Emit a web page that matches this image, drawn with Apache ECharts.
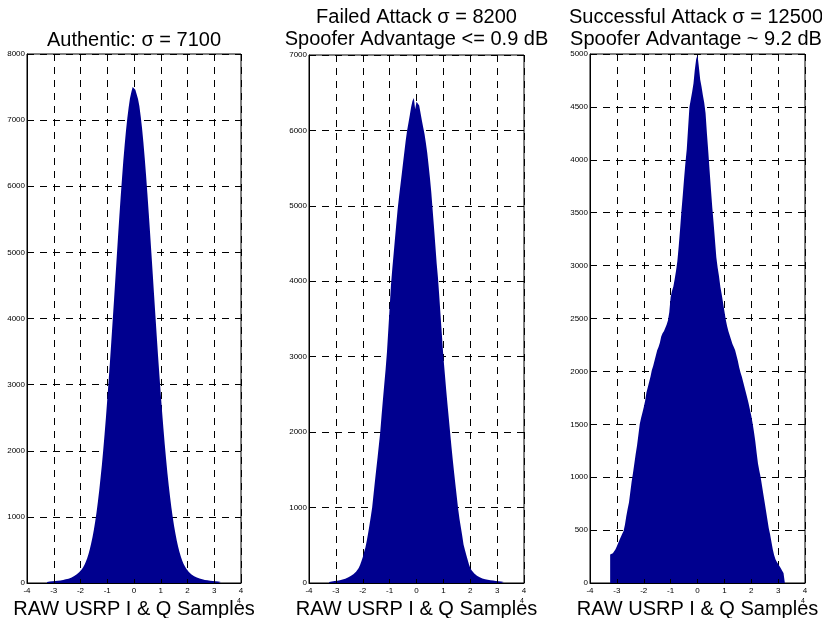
<!DOCTYPE html>
<html><head><meta charset="utf-8">
<script src="https://cdn.jsdelivr.net/npm/echarts@6/dist/echarts.min.js"></script>
<style>html,body{margin:0;padding:0;background:#fff}#c{width:822px;height:618px}</style>
</head><body><div id="c"></div>
<script>
// Histogram bins: centres from -3.25 to 3.25 (units of 1e4), step 0.05
const binStart = -3.25;
const binStep = 0.05;

const authentic = [
15,19,21,23,25,27,29,31,33,36,39,42,46,50,55,60,66,73,81,90,101,113,127,144,162,182,207,238,275,320,375,440,515,600,695,805,930,1070,1230,1400,1590,1790,2010,2250,2500,2770,3050,3340,3640,3950,4260,4580,4900,5220,5530,5830,6110,6380,6620,6840,7030,7190,7330,7420,7500,
7530,
7460,7450,7320,7215,7060,6880,6670,6430,6170,5890,5600,5300,4990,4675,4360,4045,3735,3430,3140,2860,2590,2335,2095,1870,1660,1470,1295,1135,990,860,745,640,550,470,400,340,292,252,220,192,168,148,130,115,102,91,82,74,67,61,56,51,47,43,40,37,34,32,30,28,26,24,22,20,17
];

const failedAttack = [
12,16,19,22,25,28,31,34,38,42,47,52,58,65,73,82,92,103,116,132,150,175,200,240,290,340,410,470,560,660,770,880,1000,1170,1340,1500,1660,1830,2000,2220,2430,2630,2830,3060,3350,3650,3950,4170,4370,4570,4770,4960,5120,5270,5420,5570,5720,5870,6000,6100,6200,6310,6390,6430,6280,
6380,
6400,6330,6230,6130,6040,5950,5830,5700,5540,5370,5180,4950,4720,4480,4240,4040,3790,3520,3260,3000,2790,2580,2380,2190,2000,1810,1630,1460,1300,1140,980,850,740,630,510,440,375,310,250,200,170,145,125,108,95,84,75,67,61,56,51,47,43,40,37,34,32,30,28,26,24,22,20,17,14
];

const successfulAttack = [
270,275,282,292,318,348,378,408,438,465,492,550,630,700,760,860,960,1040,1130,1220,1300,1400,1500,1560,1610,1660,1720,1800,1850,1900,1950,2010,2050,2100,2150,2200,2230,2270,2330,2360,2380,2410,2440,2480,2560,2700,2760,2800,2870,2950,3040,3180,3340,3510,3660,3820,3970,4100,4300,4500,4570,4640,4720,4850,4950,
4990,
4880,4760,4690,4610,4540,4440,4250,4080,3900,3720,3550,3400,3240,3080,2980,2900,2800,2730,2650,2570,2490,2430,2380,2340,2300,2260,2230,2200,2150,2100,2040,1990,1950,1900,1850,1800,1750,1700,1640,1580,1510,1430,1340,1230,1130,1060,1000,920,840,760,680,600,520,460,390,320,265,225,200,180,165,140,115,95,85
];

const xMin = -4, xMax = 4, xStep = 1;
const yMaxes = [8000, 7000, 5000];
const yStepsArr = [1000, 1000, 500];
const titleLines = [
  ['Authentic: σ = 7100'],
  ['Failed Attack σ = 8200', 'Spoofer Advantage <= 0.9 dB'],
  ['Successful Attack σ = 12500', 'Spoofer Advantage ~ 9.2 dB']
];
const xAxisName = 'RAW USRP I & Q Samples';
const exponentText = '4';

const seriesValues = [authentic, failedAttack, successfulAttack];
const FONT = 'Liberation Sans, Arial, Helvetica, sans-serif';
const FILL = '#00008F';

const grids = [
  {left: 27, top: 54, width: 214, height: 529},
  {left: 309, top: 55, width: 215, height: 528},
  {left: 590, top: 54, width: 215, height: 529}
];
const titleCenters = [134, 416.5, 696];

function toPairs(arr) {
  return arr.map((v, i) => [Math.round((binStart + i * binStep) * 100) / 100, v]);
}

const dash = [7, 6];
const option = {
  animation: false,
  backgroundColor: '#fff',
  grid: grids.map(g => Object.assign({show: true, borderColor: '#000', borderWidth: 1, backgroundColor: 'transparent', containLabel: false, outerBoundsMode: 'none'}, g)),
  xAxis: [],
  yAxis: [],
  series: [],
  graphic: []
};

grids.forEach((g, i) => {
  // grid-lines axis (behind the histogram)
  option.xAxis.push({
    gridIndex: i, type: 'value', position: 'bottom', min: xMin, max: xMax, interval: xStep,
    axisLine: {show: false, onZero: false}, axisTick: {show: false}, axisLabel: {show: false},
    splitLine: {show: true, lineStyle: {type: dash, color: '#000', width: 1}}
  });
  // visible axis (on top of the histogram)
  option.xAxis.push({
    gridIndex: i, type: 'value', position: 'bottom', min: xMin, max: xMax, interval: xStep, z: 5,
    axisLine: {show: true, onZero: false, lineStyle: {color: '#000', width: 1}},
    axisTick: {show: true, inside: true, length: 4, lineStyle: {color: '#000'}},
    axisLabel: {fontSize: 8, margin: 4, color: '#000', fontFamily: FONT},
    splitLine: {show: false},
    name: xAxisName, nameLocation: 'middle', nameGap: 14,
    nameTextStyle: {fontSize: 20, color: '#000', fontFamily: FONT}
  });
  option.yAxis.push({
    gridIndex: i, type: 'value', min: 0, max: yMaxes[i], interval: yStepsArr[i],
    axisLine: {show: true, onZero: false, lineStyle: {color: '#000', width: 1}},
    axisTick: {show: true, inside: true, length: 4, lineStyle: {color: '#000'}},
    axisLabel: {fontSize: 8, margin: 2, color: '#000', fontFamily: FONT, formatter: v => String(v)},
    splitLine: {show: true, lineStyle: {type: dash, color: '#000', width: 1}}
  });
  option.series.push({
    type: 'line', xAxisIndex: 2 * i, yAxisIndex: i, data: toPairs(seriesValues[i]),
    symbol: 'none', showSymbol: false, silent: true,
    lineStyle: {width: 0}, areaStyle: {color: FILL, opacity: 1}
  });
  const cx = titleCenters[i];
  const lines = titleLines[i];
  const ys = lines.length === 1 ? [40] : [17, 39.5];
  lines.forEach((t, k) => {
    option.graphic.push({
      type: 'text', x: cx, y: ys[k], silent: true,
      style: {text: t, font: '20px ' + FONT, fill: '#000', textAlign: 'center', textVerticalAlign: 'middle'}
    });
  });
  option.graphic.push({
    type: 'text', x: g.left + g.width - 2, y: 601, silent: true, z: 10,
    style: {text: exponentText, font: '7px ' + FONT, fill: '#000', textAlign: 'center', textVerticalAlign: 'middle'}
  });
});

const chart = echarts.init(document.getElementById('c'), null, {renderer: 'canvas'});
chart.setOption(option);
</script>
</body></html>
